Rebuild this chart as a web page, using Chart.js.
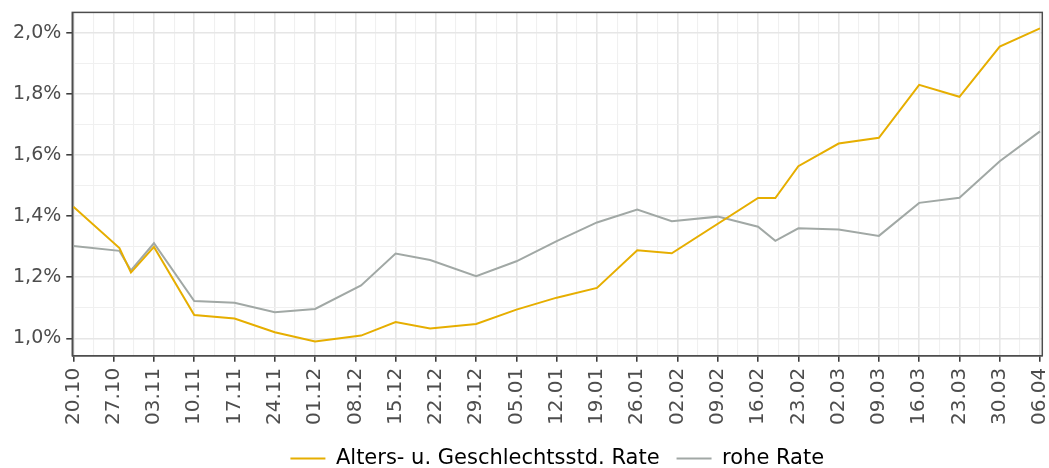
<!DOCTYPE html>
<html>
<head>
<meta charset="utf-8">
<script src="https://cdn.jsdelivr.net/npm/chart.js@4"></script>
<style>
  body { margin: 0; background: #fff; overflow: hidden; }
  #wrap { width: 1070px; height: 483px; margin-top: -4px; }
</style>
</head>
<body>
<div id="wrap"><canvas id="rateChart"></canvas></div>
<script>
// reporting dates (dd.mm, Oct 2020 - Apr 2021)
const dates = ['20.10', '28.10', '30.10', '03.11', '10.11', '17.11', '24.11', '01.12', '09.12',
  '15.12', '21.12', '29.12', '05.01', '12.01', '19.01', '26.01', '01.02', '09.02', '16.02',
  '19.02', '23.02', '02.03', '09.03', '16.03', '23.03', '30.03', '06.04'];

// rates in percent
const standardized = [1.430, 1.295, 1.215, 1.299, 1.076, 1.065, 1.020, 0.990, 1.009,
  1.053, 1.032, 1.047, 1.094, 1.133, 1.165, 1.288, 1.278, null, 1.459,
  1.459, 1.563, 1.637, 1.656, 1.829, 1.790, 1.954, 2.014];
const crude = [1.302, 1.286, 1.222, 1.311, 1.122, 1.116, 1.085, 1.096, 1.173,
  1.277, 1.256, 1.203, 1.252, 1.318, 1.379, 1.421, 1.383, 1.398, 1.365,
  1.319, 1.360, 1.356, 1.335, 1.443, 1.460, 1.579, 1.677];

// weekly axis labels
const weekLabels = ['20.10', '27.10', '03.11', '10.11', '17.11', '24.11', '01.12', '08.12',
  '15.12', '22.12', '29.12', '05.01', '12.01', '19.01', '26.01', '02.02', '09.02', '16.02',
  '23.02', '02.03', '09.03', '16.03', '23.03', '30.03', '06.04'];

const seriesNames = ['Alters- u. Geschlechtsstd. Rate', 'rohe Rate'];

// days since first date, so the x axis is a plain linear one
function dayOffset(s) {
  const [d, m] = s.split('.').map(Number);
  const year = m >= 10 ? 2020 : 2021;
  return (Date.UTC(year, m - 1, d) - Date.UTC(2020, 9, 20)) / 86400000;
}
const days = dates.map(dayOffset);

function toPoints(values) {
  return values.map((v, i) => ({ x: days[i], y: v }));
}

const isMajorX = v => Math.abs(v / 7 - Math.round(v / 7)) < 1e-6;
const isMajorY = v => Math.round(v * 10) % 2 === 0;

// panel border like the original (all four sides)
const panelBorder = {
  id: 'panelBorder',
  afterDraw(chart) {
    const { ctx, chartArea: a } = chart;
    ctx.save();
    ctx.strokeStyle = '#4d4d4d';
    ctx.lineWidth = 1.5;
    ctx.strokeRect(a.left, a.top, a.right - a.left, a.bottom - a.top);
    ctx.restore();
  }
};

const FONT = "'DejaVu Sans', sans-serif";

new Chart(document.getElementById('rateChart'), {
  type: 'line',
  data: {
    datasets: [
      {
        label: seriesNames[0],
        data: toPoints(standardized),
        borderColor: '#e6ae00',
        backgroundColor: '#e6ae00',
        borderWidth: 2,
        pointRadius: 0,
        pointStyle: 'line',
        spanGaps: true,
        tension: 0,
      },
      {
        label: seriesNames[1],
        data: toPoints(crude),
        borderColor: '#a1a8a5',
        backgroundColor: '#a1a8a5',
        borderWidth: 2,
        pointRadius: 0,
        pointStyle: 'line',
        spanGaps: true,
        tension: 0,
      },
    ],
  },
  options: {
    responsive: true,
    maintainAspectRatio: false,
    animation: false,
    layout: { padding: { left: 8, right: 8, top: 8, bottom: 0 } },
    plugins: {
      tooltip: { enabled: false },
      legend: {
        position: 'bottom',
        fullSize: false,
        labels: {
          usePointStyle: true,
          pointStyleWidth: 35,
          padding: 17,
          color: '#000',
          font: { family: FONT, size: 21 },
        },
      },
    },
    scales: {
      x: {
        type: 'linear',
        min: -0.2,
        max: 168.4,
        border: { display: true, color: '#4d4d4d', width: 1.5 },
        grid: {
          color: c => isMajorX(c.tick.value) ? '#e6e6e6' : '#f0f0f0',
          lineWidth: c => isMajorX(c.tick.value) ? 1.6 : 1.1,
          tickColor: c => isMajorX(c.tick.value) ? '#333' : 'rgba(0,0,0,0)',
          tickLength: 6,
          tickWidth: 1.5,
        },
        ticks: {
          stepSize: 3.5,
          includeBounds: false,
          autoSkip: false,
          minRotation: 90,
          maxRotation: 90,
          padding: 6,
          color: '#4d4d4d',
          font: { family: FONT, size: 20 },
          callback: v => isMajorX(v) ? weekLabels[Math.round(v / 7)] : '',
        },
      },
      y: {
        min: 0.943,
        max: 2.066,
        border: { display: true, color: '#4d4d4d', width: 1.5 },
        grid: {
          color: c => isMajorY(c.tick.value) ? '#e6e6e6' : '#f0f0f0',
          lineWidth: c => isMajorY(c.tick.value) ? 1.6 : 1.1,
          tickColor: c => isMajorY(c.tick.value) ? '#333' : 'rgba(0,0,0,0)',
          tickLength: 6,
          tickWidth: 1.5,
        },
        ticks: {
          stepSize: 0.1,
          includeBounds: false,
          autoSkip: false,
          padding: 5,
          color: '#4d4d4d',
          font: { family: FONT, size: 19 },
          callback: v => isMajorY(v) ? v.toFixed(1).replace('.', ',') + '%' : '',
        },
      },
    },
  },
  plugins: [panelBorder],
});
</script>
</body>
</html>
